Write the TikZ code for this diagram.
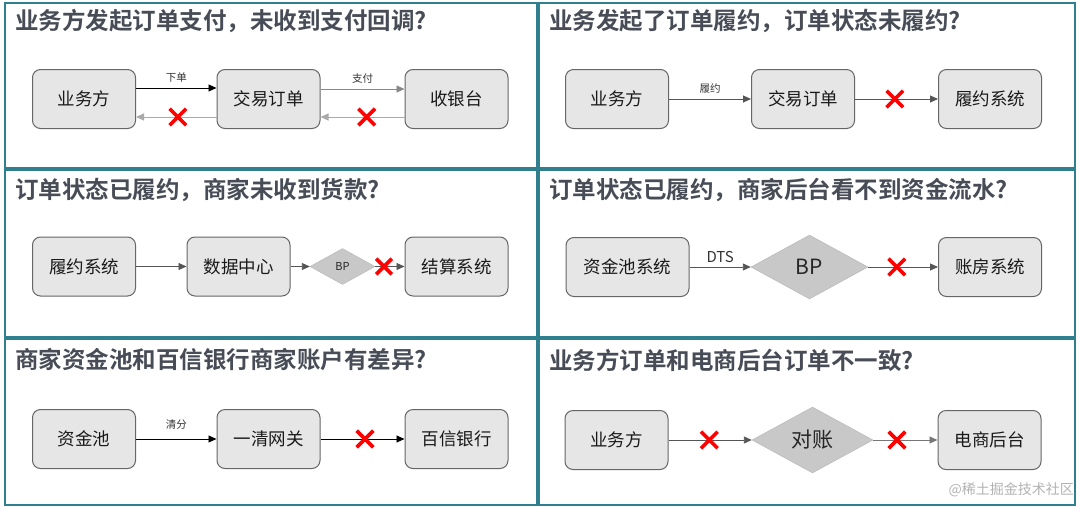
\documentclass[tikz,border=0pt]{standalone}
\usepackage{fontspec}
\setmainfont{Noto Sans CJK SC}
\newfontfamily\cjkb{Noto Sans CJK SC Bold}
\usetikzlibrary{shapes.geometric,shapes.misc,arrows.meta}
\definecolor{panelc}{HTML}{2F7F8F}
\definecolor{titlec}{HTML}{474C56}
\definecolor{boxfill}{HTML}{E6E6E6}
\definecolor{boxline}{HTML}{666666}
\definecolor{linec}{HTML}{555555}
\definecolor{lightline}{HTML}{AAAAAA}
\definecolor{dfill}{HTML}{C8C8C8}
\definecolor{xred}{HTML}{FF0000}
\tikzset{
  panel/.style={draw=panelc,line width=1.4pt},
  ttl/.style={anchor=west,text=titlec,font=\cjkb\fontsize{23.5}{25}\selectfont,inner sep=0pt},
  bx/.style={draw=boxline,fill=boxfill,rounded corners=8pt,line width=1pt,minimum width=103pt,minimum height=59pt,inner sep=0pt,font=\fontsize{17.5}{19}\selectfont,text=black!90},
  dia/.style={diamond,draw=dfill!90!black,fill=dfill,inner sep=0pt,text=black!85},
  fw/.style={draw=linec,line width=0.9pt,-{Triangle[length=8pt,width=7pt]},shorten >=0pt},
  bk/.style={draw=lightline,line width=0.9pt,-{Triangle[length=8pt,width=7pt,fill=lightline]}},
  lab/.style={font=\fontsize{10.5}{12}\selectfont,text=black!80,inner sep=0pt},
  xm/.style={cross out,draw=xred,line width=3.6pt,minimum size=13pt,inner sep=0pt},
}
\begin{document}
\begin{tikzpicture}[x=1pt,y=-1pt]
\useasboundingbox (0,0) rectangle (1080,507);
% panels
\draw[panel] (5,3) rectangle (537,168);
\draw[panel] (539,3) rectangle (1075,168);
\draw[panel] (5,170) rectangle (537,337);
\draw[panel] (539,170) rectangle (1075,337);
\draw[panel] (5,339) rectangle (537,505);
\draw[panel] (539,339) rectangle (1075,505);
% titles
\node[ttl] (t1) at (15,21) {业务方发起订单支付，未收到支付回调?};
\node[ttl] (t2) at (549,21) {业务发起了订单履约，订单状态未履约?};
\node[ttl] (t3) at (15,190) {订单状态已履约，商家未收到货款?};
\node[ttl] (t4) at (549,190) {订单状态已履约，商家后台看不到资金流水?};
\node[ttl] (t5) at (15,360) {商家资金池和百信银行商家账户有差异?};
\node[ttl] (t6) at (549,360) {业务方订单和电商后台订单不一致?};

% row 1 left
\node[bx] (a1) at (84,99) {业务方};
\node[bx] (a2) at (268.5,99) {交易订单};
\node[bx] (a3) at (456.5,99) {收银台};
\draw[fw,draw=black] ([yshift=11pt]a1.east) -- node[lab,above=5pt] (l1) {下单} ([yshift=11pt]a2.west);
\draw[fw,draw=lightline!80!black] ([yshift=10pt]a2.east) -- node[lab,above=5pt] (l2) {支付} ([yshift=10pt]a3.west);
\draw[bk] ([yshift=-18pt]a2.west) -- node[xm,pos=0.48] (x1) {} ([yshift=-18pt]a1.east);
\draw[bk] ([yshift=-18pt]a3.west) -- node[xm,pos=0.45] (x2) {} ([yshift=-18pt]a2.east);

% row 1 right
\node[bx] (b1) at (617,99) {业务方};
\node[bx] (b2) at (803,99) {交易订单};
\node[bx] (b3) at (990,99) {履约系统};
\draw[fw] (b1) -- node[lab,above=5pt] (l3) {履约} (b2);
\draw[fw] (b2) -- node[xm,pos=0.48] (x3) {} (b3);

% row 2 left
\node[bx] (c1) at (84,266.5) {履约系统};
\node[bx] (c2) at (238.5,266.5) {数据中心};
\node[dia,minimum width=65pt,minimum height=36pt,font=\fontsize{11}{12}\selectfont] (c3) at (342.5,266.5) {BP};
\node[bx] (c4) at (456.5,266.5) {结算系统};
\draw[fw] (c1) -- (c2);
\draw[fw] (c2) -- (c3);
\draw[fw] (c3) -- node[xm,pos=0.3,minimum size=12pt] (x4) {} (c4);

% row 2 right
\node[bx,minimum width=123pt] (d1) at (627.5,267) {资金池系统};
\node[dia,minimum width=117pt,minimum height=64pt,font=\fontsize{21}{23}\selectfont] (d2) at (809.5,267) {BP};
\node[bx] (d3) at (990,267) {账房系统};
\draw[fw] (d1.east) -- node[lab,above=4pt,font=\fontsize{15}{16}\selectfont] (l4) {DTS} (d2.west);
\draw[fw] (d2) -- node[xm,pos=0.41] (x5) {} (d3);

% row 3 left
\node[bx] (e1) at (84,439) {资金池};
\node[bx] (e2) at (268.5,439) {一清网关};
\node[bx] (e3) at (456.5,439) {百信银行};
\draw[fw,draw=black] (e1) -- node[lab,above=9pt] (l5) {清分} (e2);
\draw[fw,draw=black] (e2) -- node[xm,pos=0.53] (x6) {} (e3);

% row 3 right
\node[bx] (f1) at (616.5,440) {业务方};
\node[dia,minimum width=121pt,minimum height=66pt,font=\fontsize{21}{23}\selectfont] (f2) at (812.5,440) {对账};
\node[bx] (f3) at (989.5,440) {电商后台};
\draw[fw] (f1.east) -- node[xm,pos=0.49] (x7) {} (f2.west);
\draw[fw,draw=lightline!70!black] (f2.east) -- node[xm,pos=0.37] (x8) {} (f3.west);

% watermark
\node[anchor=east,text=black!30,font=\fontsize{14}{16}\selectfont,inner sep=0pt] (wm) at (1074,490) {@稀土掘金技术社区};
\end{tikzpicture}
\end{document}
